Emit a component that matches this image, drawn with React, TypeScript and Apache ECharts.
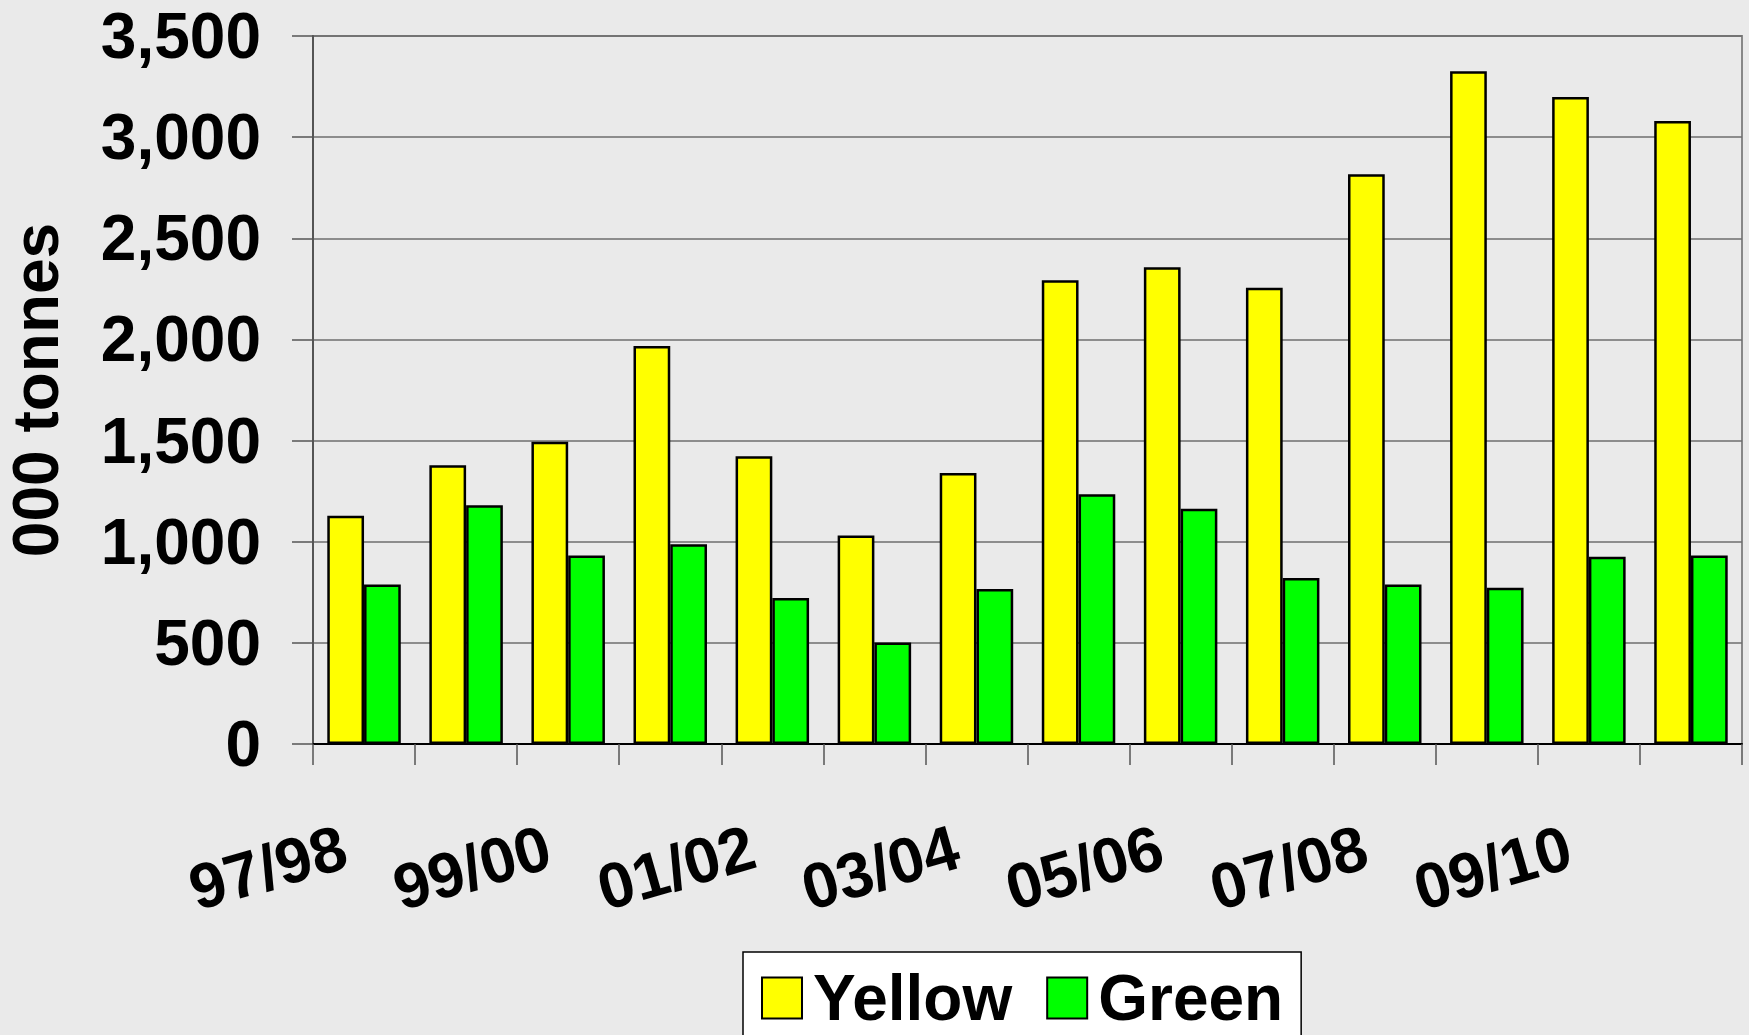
import React, { useEffect, useRef } from "react";
import * as echarts from "echarts";

const categories = [
  "97/98", "98/99", "99/00", "00/01", "01/02", "02/03", "03/04",
  "04/05", "05/06", "06/07", "07/08", "08/09", "09/10", "10/11",
];
const yellowValues = [1128, 1378, 1494, 1968, 1422, 1031, 1340, 2293, 2357, 2256, 2816, 3326, 3199, 3080];
const greenValues = [789, 1180, 932, 987, 722, 502, 766, 1235, 1163, 821, 788, 772, 926, 932];
const seriesNames = ["Yellow", "Green"];
const yTicks = { min: 0, max: 3500, interval: 500 };
const yAxisTitle = "000 tonnes";

const FONT = "'Liberation Sans', Arial, Helvetica, sans-serif";

export default function App() {
  const ref = useRef<HTMLDivElement>(null);
  useEffect(() => {
    if (!ref.current) return;
    const chart = echarts.init(ref.current, undefined, { renderer: "svg" });
    chart.setOption({
      animation: false,
      backgroundColor: "#eaeaea",
      grid: {
        left: 313,
        right: 7,
        top: 36,
        bottom: 1035 - 744,
        containLabel: false,
        outerBoundsMode: "none",
        show: true,
        borderColor: "#888888",
        borderWidth: 2,
        backgroundColor: "transparent",
      },
      legend: {
        left: 743,
        top: 952,
        padding: [14, 18, 30, 18],
        itemGap: 34,
        itemWidth: 40,
        itemHeight: 41,
        backgroundColor: "#ffffff",
        borderColor: "#000000",
        borderWidth: 1.5,
        borderRadius: 0,
        icon: "rect",
        textStyle: {
          fontFamily: FONT,
          fontWeight: "bold",
          fontSize: 64,
          color: "#000",
          padding: [0, 0, 0, 6],
        },
        data: seriesNames,
      },
      xAxis: {
        type: "category",
        data: categories,
        boundaryGap: true,
        axisLine: { show: true, lineStyle: { color: "#000", width: 2 } },
        axisTick: {
          show: true,
          interval: 0,
          length: 21,
          lineStyle: { color: "#555", width: 1.5 },
        },
        axisLabel: {
          interval: 1,
          rotate: 16,
          margin: 96,
          padding: [0, 20, 0, 0],
          fontFamily: FONT,
          fontWeight: "bold",
          fontSize: 64,
          color: "#000",
        },
        splitLine: { show: false },
      },
      yAxis: {
        type: "value",
        min: yTicks.min,
        max: yTicks.max,
        interval: yTicks.interval,
        name: yAxisTitle,
        nameLocation: "middle",
        nameGap: 245,
        nameRotate: 90,
        nameTextStyle: {
          fontFamily: FONT,
          fontWeight: "bold",
          fontSize: 64,
          color: "#000",
        },
        axisLine: { show: true, lineStyle: { color: "#555", width: 2 } },
        axisTick: {
          show: true,
          length: 21,
          lineStyle: { color: "#555", width: 1.5 },
        },
        axisLabel: {
          margin: 52,
          fontFamily: FONT,
          fontWeight: "bold",
          fontSize: 64,
          color: "#000",
          formatter: (v: number) => v.toLocaleString("en-US"),
        },
        splitLine: { show: true, lineStyle: { color: "#6e6e6e", width: 1.5 } },
      },
      series: [
        {
          name: seriesNames[0],
          type: "bar",
          data: yellowValues,
          barGap: "0%",
          barCategoryGap: "28%",
          itemStyle: { color: "#ffff00", borderColor: "#000", borderWidth: 2.5 },
        },
        {
          name: seriesNames[1],
          type: "bar",
          data: greenValues,
          barGap: "0%",
          barCategoryGap: "28%",
          itemStyle: { color: "#00ff00", borderColor: "#000", borderWidth: 2.5 },
        },
      ],
    });
    return () => chart.dispose();
  }, []);
  return (
    <div
      ref={ref}
      style={{ position: "fixed", left: 0, top: 0, width: 1749, height: 1035 }}
    />
  );
}
